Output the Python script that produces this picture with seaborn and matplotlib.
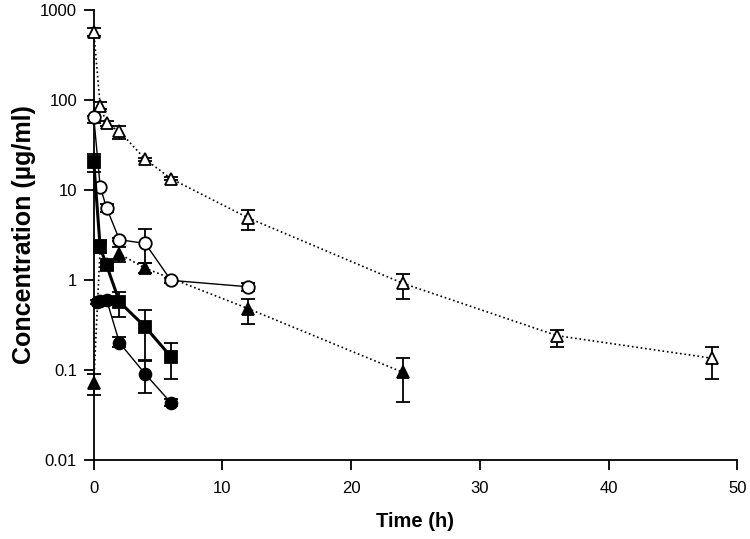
import numpy as np
import seaborn as sns
import matplotlib
matplotlib.use('Agg')
import matplotlib.pyplot as plt

# open triangles, dotted
ot_t = [0, 0.5, 1, 2, 4, 6, 12, 24, 36, 48]
ot_y = [575, 87, 55, 45, 22, 13.4, 4.9, 0.92, 0.24, 0.135]
ot_hi = [640, 95, 58, 52, 23, 14, 6.0, 1.15, 0.28, 0.18]
ot_lo = [520, 80, 52, 37, 21, 12.8, 3.6, 0.62, 0.18, 0.08]

# open circles, thin solid
oc_t = [0, 0.5, 1, 2, 4, 6, 12]
oc_y = [65, 10.9, 6.3, 2.8, 2.55, 0.99, 0.84]
oc_hi = [66, 11.5, 7.0, 2.9, 3.66, 1.05, 0.93]
oc_lo = [55, 10.3, 5.7, 2.7, 1.56, 0.92, 0.75]

# filled triangles, dotted
ft_t = [0, 0.5, 1, 2, 4, 12, 24]
ft_y = [0.072, 2.3, 1.5, 1.95, 1.35, 0.48, 0.094]
ft_hi = [0.09, 2.6, 1.6, 2.3, 1.56, 0.61, 0.135]
ft_lo = [0.053, 2.1, 1.4, 1.6, 1.2, 0.32, 0.044]

# filled squares, thick solid
fs_t = [0, 0.5, 1, 2, 4, 6]
fs_y = [20.7, 2.3, 1.45, 0.57, 0.30, 0.14]
fs_hi = [25, 2.8, 1.6, 0.74, 0.46, 0.2]
fs_lo = [16, 2.0, 1.3, 0.39, 0.13, 0.079]

# filled circles, thin solid
fc_t = [0.25, 0.5, 1, 2, 4, 6]
fc_y = [0.57, 0.58, 0.6, 0.20, 0.09, 0.043]
fc_hi = [0.6, 0.62, 0.65, 0.23, 0.126, 0.047]
fc_lo = [0.54, 0.55, 0.55, 0.18, 0.055, 0.04]

y_ticks = [0.01, 0.1, 1, 10, 100, 1000]
y_labels = ['0.01', '0.1', '1', '10', '100', '1000']
x_ticks = [0, 10, 20, 30, 40, 50]

sns.set_style('ticks')
plt.rcParams['font.family'] = ['Liberation Sans', 'DejaVu Sans']
plt.rcParams['text.color'] = 'black'
plt.rcParams['axes.labelcolor'] = 'black'

fig = plt.figure(figsize=(7.5, 5.39), dpi=100)
ax = fig.add_axes([0.125, 0.147, 0.858, 0.834])

series = [
    (ft_t, ft_y, ft_lo, ft_hi, '^', 'black', ':', 1.2, 9),
    (ot_t, ot_y, ot_lo, ot_hi, '^', 'white', ':', 1.2, 9),
    (oc_t, oc_y, oc_lo, oc_hi, 'o', 'white', '-', 1.0, 9),
    (fc_t, fc_y, fc_lo, fc_hi, 'o', 'black', '-', 1.0, 8.5),
    (fs_t, fs_y, fs_lo, fs_hi, 's', 'black', '-', 2.2, 8),
]

for i, (t, y, lo, hi, mk, fc, ls, lw, ms) in enumerate(series):
    y = np.array(y)
    yerr = [y - np.array(lo), np.array(hi) - y]
    eb = ax.errorbar(t, y, yerr=yerr, fmt='none', ecolor='black', elinewidth=1.3,
                     capsize=5, capthick=1.3, zorder=2 + i * 0.1)
    for art in eb.lines[1] + eb.lines[2]:
        art.set_clip_on(False)
    sns.lineplot(x=t, y=y, ax=ax, color='black', linestyle=ls, linewidth=lw,
                 marker=mk, markersize=ms, markerfacecolor=fc,
                 markeredgecolor='black', markeredgewidth=1.3,
                 errorbar=None, sort=False, zorder=3 + i * 0.1, clip_on=False)

ax.set_yscale('log')
ax.set_ylim(0.01, 1000)
ax.set_xlim(0, 50)
ax.set_yticks(y_ticks)
ax.set_yticklabels(y_labels)
ax.yaxis.set_minor_locator(matplotlib.ticker.NullLocator())
ax.set_xticks(x_ticks)

sns.despine(ax=ax)
ax.spines['left'].set_linewidth(1.3)
ax.spines['bottom'].set_linewidth(1.3)
ax.spines['left'].set_color('black')
ax.spines['bottom'].set_color('black')
ax.tick_params(axis='both', direction='out', length=7, width=1.3,
               colors='black', labelsize=12, pad=5)
ax.tick_params(axis='x', pad=8)

ax.set_xlabel('Time (h)', fontsize=14.5, fontweight='bold', labelpad=12)
ax.set_ylabel('Concentration (µg/ml)', fontsize=18, fontweight='bold', labelpad=3)

fig.savefig('out.png', dpi=100)
